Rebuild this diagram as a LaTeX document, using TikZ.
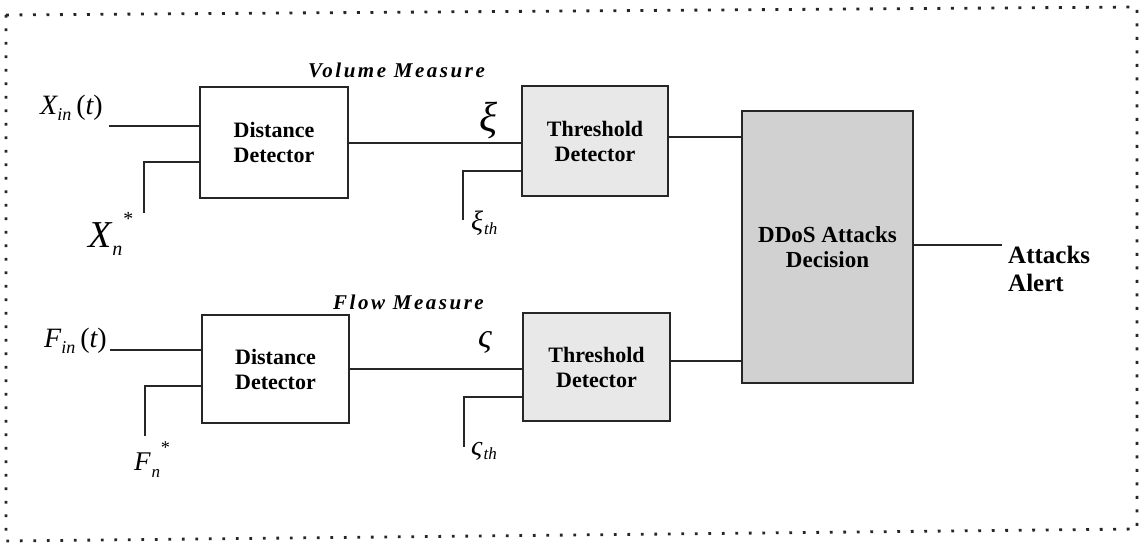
\documentclass[tikz,border=0pt]{standalone}
\usepackage{fontspec}
\setmainfont{Liberation Serif}
\usetikzlibrary{calc}
\newcommand{\sizeit}[2]{\fontsize{#1}{#2}\selectfont}
\begin{document}
\begin{tikzpicture}[x=1pt,y=-1pt,
  conn/.style={line width=2.2pt,draw=black!85},
  box/.style={draw=black!85,line width=1.8pt,align=center,inner sep=0pt,
     font=\sizeit{22}{25}\bfseries},
  thbox/.style={box,fill=gray!18},
  decbox/.style={box,fill=gray!36,font=\sizeit{23}{25}\bfseries},
  frame/.style={line width=2.8pt,draw=black!85,dash pattern=on 2.8pt off 10.7pt},
  lab/.style={inner sep=0pt},
  meas/.style={lab,font=\sizeit{21}{21}\bfseries\itshape\addfontfeatures{LetterSpace=12}}
]
\useasboundingbox (0,0) rectangle (1140,543);
% dotted frame
\coordinate (f1) at (6,15);
\coordinate (f2) at (1137,7);
\coordinate (f3) at (1137,529);
\coordinate (f4) at (6,541);
\draw[frame] (f1) -- (f2) -- (f3) -- (f4) -- cycle;

% boxes
\node[box,minimum width=148pt,minimum height=111pt] (dd1) at (274,142.5) {Distance\\Detector};
\node[thbox,minimum width=146pt,minimum height=110pt] (td1) at (595,141) {Threshold\\Detector};
\node[decbox,minimum width=171pt,minimum height=272pt] (dec) at (827.5,247) {DDoS Attacks\\Decision};
\node[box,minimum width=147pt,minimum height=108pt] (dd2) at (275.5,369) {Distance\\Detector};
\node[thbox,minimum width=147pt,minimum height=108pt] (td2) at (596.5,367) {Threshold\\Detector};

% free ends
\coordinate (xin) at (109,126);
\coordinate (xn) at (144,213);
\coordinate (xnk) at (144,162);
\coordinate (xith) at (463,220);
\coordinate (xithk) at (463,171);
\coordinate (out) at (1002,245);
\coordinate (fin) at (110,350);
\coordinate (fn) at (145,436);
\coordinate (fnk) at (145,386);
\coordinate (sith) at (464,447);
\coordinate (sithk) at (464,397);
\coordinate (o1) at (668,137);
\coordinate (o2) at (670,361);
\coordinate (m1) at (348,143);
\coordinate (m2) at (349,369);

% connectors
\draw[conn] (xin) -- (xin -| dd1.west);
\draw[conn] (xn) -- (xnk) -- (xnk -| dd1.west);
\draw[conn] (m1 -| dd1.east) -- (m1 -| td1.west);
\draw[conn] (xith) -- (xithk) -- (xithk -| td1.west);
\draw[conn] (o1 -| td1.east) -- (o1 -| dec.west);
\draw[conn] (out -| dec.east) -- (out);
\draw[conn] (fin) -- (fin -| dd2.west);
\draw[conn] (fn) -- (fnk) -- (fnk -| dd2.west);
\draw[conn] (m2 -| dd2.east) -- (m2 -| td2.west);
\draw[conn] (sith) -- (sithk) -- (sithk -| td2.west);
\draw[conn] (o2 -| td2.east) -- (o2 -| dec.west);

% labels
\node[lab,anchor=base west] (lxin) at (40,114)
  {\sizeit{28}{28}\itshape X\raisebox{-6pt}{\sizeit{18}{18}in}\hspace{5pt}{\upshape(}t{\upshape)}};
\node[lab,anchor=base west] (lxn) at (88,247)
  {\sizeit{38}{38}\itshape X\raisebox{-8pt}{\sizeit{20}{20}\hspace{1pt}n}\raisebox{22pt}{\sizeit{20}{20}*}};
\node[lab,anchor=base west] (lfin) at (44,347)
  {\sizeit{28}{28}\itshape F\raisebox{-6pt}{\sizeit{18}{18}in}\hspace{5pt}{\upshape(}t{\upshape)}};
\node[lab,anchor=base west] (lfn) at (134,470)
  {\sizeit{27}{27}\itshape F\raisebox{-7pt}{\sizeit{17}{17}\hspace{1pt}n}\raisebox{17pt}{\sizeit{18}{18}*}};
\node[lab] (lxi) at (488,121) {\sizeit{42}{42}\itshape ξ};
\node[lab] (lsi) at (485,342) {\sizeit{34}{34}\itshape ς};
\node[lab,anchor=base west] (lxith) at (471,230)
  {\sizeit{28}{28}\itshape ξ\raisebox{-4pt}{\sizeit{17}{17}\hspace{1pt}th}};
\node[lab,anchor=base west] (lsith) at (471,455)
  {\sizeit{28}{28}\itshape ς\raisebox{-4pt}{\sizeit{17}{17}\hspace{1pt}th}};
\node[meas,anchor=west] (vol) at (308,70) {Volume Measure};
\node[meas,anchor=west] (flow) at (333,302) {Flow Measure};
\node[lab,anchor=west,align=left,font=\sizeit{25}{28}\bfseries] (alert) at (1008,269) {Attacks\\Alert};
\end{tikzpicture}
\end{document}
